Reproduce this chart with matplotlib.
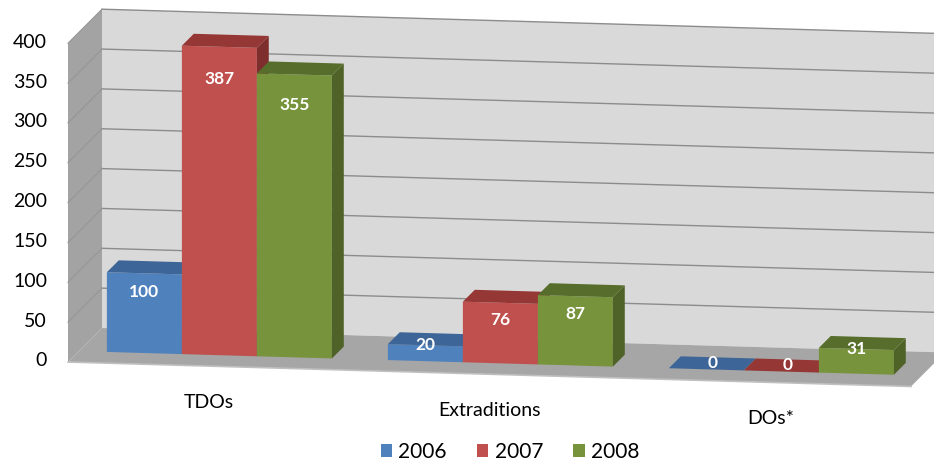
import matplotlib
matplotlib.use("Agg")
import matplotlib.pyplot as plt
from matplotlib.patches import Polygon, Patch
import numpy as np

plt.rcParams["font.family"] = ["Lato", "DejaVu Sans"]

categories = ["TDOs", "Extraditions", "DOs*"]
years = ["2006", "2007", "2008"]
counts_2006 = [100, 20, 0]
counts_2007 = [387, 76, 0]
counts_2008 = [355, 87, 31]
y_ticks = [0, 50, 100, 150, 200, 250, 300, 350, 400]
y_max = 400

series = [counts_2006, counts_2007, counts_2008]
# front / top / side shades per year
shades = [
    ("#4F81BD", "#3D6597", "#345580"),
    ("#C0504D", "#953735", "#7E2E2C"),
    ("#77933C", "#566D2B", "#4F6228"),
]

W, H = 934, 463
# oblique projection: (category position, value, depth 0..1) -> pixels
ORIGIN = np.array([68.0, 362.0])
CAT_PX = 281.0          # width of one category slot along the floor
SLOPE = 0.029           # floor front edge tilt
VAL_PX = 0.797          # pixels per unit of value
DEPTH = np.array([34.0, -34.0])
BAR_W = 75.0 / CAT_PX
BAR_D = (0.32, 0.67)


def to_px(x, v, w):
    px = ORIGIN[0] + x * CAT_PX + w * DEPTH[0]
    py = ORIGIN[1] + x * CAT_PX * SLOPE - v * VAL_PX + w * DEPTH[1]
    return (px, py)


def face(ax, pts, color, z, ec="none", lw=0):
    ax.add_patch(Polygon([to_px(*p) for p in pts], closed=True, facecolor=color,
                         edgecolor=ec, linewidth=lw, zorder=z))


fig = plt.figure(figsize=(W / 100, H / 100), dpi=100)
ax = fig.add_axes([0, 0, 1, 1])
ax.set_xlim(0, W)
ax.set_ylim(H, 0)
ax.axis("off")

n_cat = len(categories)

# walls and floor
face(ax, [(0, 0, 1), (n_cat + 0.2, 0, 1), (n_cat + 0.2, y_max, 1), (0, y_max, 1)], "#D9D9D9", 1)
face(ax, [(0, 0, 0), (0, 0, 1), (0, y_max, 1), (0, y_max, 0)], "#A3A3A3", 1)
face(ax, [(0, 0, 0), (n_cat, 0, 0), (n_cat, 0, 1), (0, 0, 1)], "#A6A6A6", 2)
ax.plot(*zip(to_px(0, 0, 0), to_px(n_cat, 0, 0)), color="#BFBFBF", lw=1.2, zorder=2)

# gridlines on back wall and side wall
for v in y_ticks[1:]:
    ax.plot(*zip(to_px(0, v, 1), to_px(n_cat + 0.2, v, 1)), color="#8C8C8C", lw=1.0, zorder=1.5)
    ax.plot(*zip(to_px(0, v, 0), to_px(0, v, 1)), color="#969696", lw=0.8, zorder=1.5)

# tick labels along the front edge of the side wall
for v in y_ticks:
    px, py = to_px(0, v, 0)
    ax.text(px - 21, py - 1, str(v), ha="right", va="center", fontsize=14, color="black")

# bars, painted left to right so right faces are covered by neighbours
d0, d1 = BAR_D
for i, cat in enumerate(categories):
    gap = (1 - len(series) * BAR_W) / 2
    for j, vals in enumerate(series):
        v = vals[i]
        x0 = i + gap + j * BAR_W
        x1 = x0 + BAR_W
        fc, tc, sc = shades[j]
        if v > 0:
            face(ax, [(x0, 0, d0), (x1, 0, d0), (x1, v, d0), (x0, v, d0)], fc, 3)
            face(ax, [(x1, 0, d0), (x1, 0, d1), (x1, v, d1), (x1, v, d0)], sc, 3)
        face(ax, [(x0, v, d0), (x1, v, d0), (x1, v, d1), (x0, v, d1)], tc, 3)

        # value label on the front face
        cx = (x0 + x1) / 2
        if v == 0:
            lx, ly = to_px(cx, v, 0.5)
        else:
            lx, ly = to_px(cx, v, d0)
            h = v * VAL_PX
            ly += 0.06 * h + 14 if h > 40 else 0
        ax.text(lx, ly, str(v), ha="center", va="center", fontsize=12.5,
                fontweight="bold", color="white", zorder=4)

    px, py = to_px(i + 0.5, 0, 0)
    ax.text(px, py + 36, cat, ha="center", va="center", fontsize=14, color="black")

handles = [Patch(facecolor=s[0], edgecolor="none") for s in shades]
ax.legend(handles, years, loc="center", bbox_to_anchor=(510 / W, 1 - 452 / H), ncol=3,
          frameon=False, fontsize=15, handlelength=0.55, handleheight=0.55,
          handletextpad=0.3, columnspacing=1.45, borderpad=0)

fig.savefig("out.png", dpi=100)
